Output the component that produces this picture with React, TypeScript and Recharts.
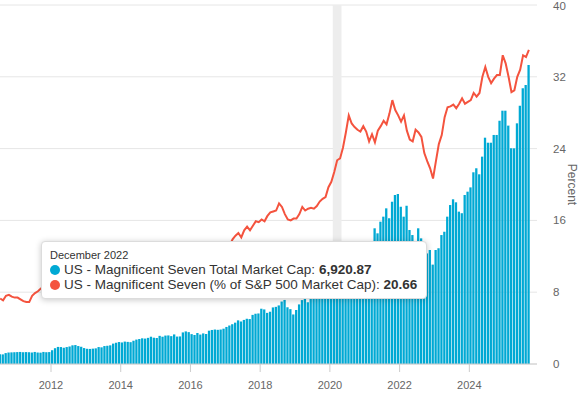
import {
  Bar,
  CartesianGrid,
  ComposedChart,
  Line,
  ReferenceArea,
  Tooltip,
  XAxis,
  YAxis,
} from "recharts";

const CAP_COLOR = "#00a9d4";
const PCT_COLOR = "#f4533e";

const monthNames = [
  "January", "February", "March", "April", "May", "June",
  "July", "August", "September", "October", "November", "December",
];

// monthly series, July 2010 .. September 2025
const firstYear = 2010;
const firstMonth = 6; // July, zero based

// US - Magnificent Seven Total Market Cap (billions USD)
const capBn = [
  680, 670, 760, 800, 810, 820,
  830, 840, 820, 830, 820, 800, 840, 800, 790, 840, 820, 830,
  960, 1100, 1190, 1180, 1130, 1180, 1220, 1300, 1320, 1250, 1200, 1110,
  1060, 1050, 1070, 1090, 1180, 1160, 1250, 1270, 1300, 1420, 1480, 1530,
  1500, 1560, 1540, 1520, 1620, 1700, 1740, 1790, 1770, 1820, 1900, 1830,
  1810, 1960, 1900, 1980, 1990, 1940, 2060, 1910, 1920, 2200, 2270, 2220,
  2080, 2020, 2160, 2050, 2130, 2090, 2320, 2370, 2400, 2380, 2400, 2460,
  2580, 2680, 2770, 2880, 3040, 2960, 3070, 3150, 3130, 3420, 3500, 3520,
  3850, 3800, 3560, 3640, 3940, 3980, 4080, 4350, 4460, 3950, 3820, 3450,
  3760, 4150, 4450, 4800, 4300, 4700, 4950, 4800, 4950, 5150, 5400, 5700,
  6050, 5700, 5150, 5950, 6350, 6800, 7650, 8350, 7950, 7600, 8150, 8500,
  8300, 8550, 8450, 9450, 9100, 9910, 10260, 10840, 10150, 11300, 11770, 11840,
  10950, 10260, 11020, 9330, 8980, 7820, 9450, 8750, 7650, 7700, 7940, 6920.87,
  7940, 8060, 8980, 9210, 10260, 11070, 11470, 11260, 10610, 10500, 11770, 12000,
  12300, 13350, 13630, 13210, 14440, 15760, 15410, 15410, 15950, 15950, 16940, 17640,
  17640, 16600, 15020, 15020, 16760, 17990, 19200, 19430, 20820,
];

// US - Magnificent Seven (% of S&P 500 Market Cap)
const sharePct = [
  7.3, 7.1, 7.6, 7.7, 7.5, 7.4,
  7.4, 7.2, 7.0, 6.9, 6.9, 7.6, 7.9, 8.1, 8.4, 8.6, 8.7, 8.8,
  9.2, 9.7, 10.2, 10.0, 9.8, 9.9, 10.1, 10.4, 10.5, 10.1, 9.8, 9.4,
  9.0, 8.8, 8.7, 8.6, 8.7, 8.6, 8.9, 9.0, 9.1, 9.4, 9.6, 9.7,
  9.6, 9.7, 9.5, 9.4, 9.6, 9.8, 9.9, 10.1, 10.3, 10.2, 10.5, 10.7,
  10.8, 11.0, 10.9, 11.1, 11.3, 11.1, 11.4, 11.6, 11.5, 12.0, 12.3, 12.4,
  12.1, 11.9, 11.8, 11.5, 11.4, 11.3, 11.8, 12.1, 12.2, 12.0, 11.9, 12.1,
  12.6, 13.2, 13.9, 14.3, 14.6, 14.1, 14.9, 15.3, 14.9, 15.4, 15.9, 15.8,
  16.1, 15.9, 16.5, 16.9, 17.0, 17.1, 17.9, 17.5, 16.7, 16.1, 16.0, 16.2,
  16.2, 16.7, 17.5, 17.1, 17.3, 17.4, 17.3, 17.6, 18.1, 18.4, 18.6, 19.7,
  20.3, 21.4, 22.7, 22.9, 24.1, 25.8, 27.7, 26.8, 26.4, 26.1, 25.9, 26.5,
  25.9, 24.8, 25.6, 24.7, 26.0, 26.5, 27.1, 26.7, 27.9, 29.4, 28.3, 27.7,
  27.0, 27.7, 26.0, 25.0, 24.8, 26.1, 25.8, 25.3, 23.5, 22.6, 21.8, 20.66,
  22.6, 24.5, 25.5, 27.5, 28.6, 28.7, 28.9, 28.5, 29.0, 29.6, 29.0, 29.2,
  29.4, 30.2, 29.8, 30.2, 32.0, 33.1, 32.0, 31.3, 31.8, 32.2, 32.2, 34.4,
  33.5, 32.0, 30.3, 30.5, 32.0, 32.8, 34.4, 34.2, 35.0,
];

const yearTicks = [2012, 2014, 2016, 2018, 2020, 2022, 2024];
const pctTicks = [0, 8, 16, 24, 32, 40];
const xDomain = [2010.537, 2025.941];
const recessionStart = 2020 + 1 / 12; // Feb 2020
const recessionEnd = 2020 + 4 / 12; // end of Apr 2020
const highlightIndex = 149; // December 2022

const data = capBn.map((cap, i) => {
  const m = firstMonth + i;
  const year = firstYear + Math.floor(m / 12);
  const month = m % 12;
  return {
    t: year + (month + 0.5) / 12,
    label: `${monthNames[month]} ${year}`,
    cap,
    pct: sharePct[i],
  };
});

const fmt = (v: number) =>
  v.toLocaleString("en-US", { minimumFractionDigits: 2, maximumFractionDigits: 2 });

function Dot({ color }: { color: string }) {
  return (
    <span
      style={{
        display: "inline-block",
        width: 10,
        height: 10,
        borderRadius: "50%",
        background: color,
        marginRight: 4,
        verticalAlign: "-1px",
      }}
    />
  );
}

function TipContent({ payload }: any) {
  if (!payload || !payload.length) return null;
  const d = payload[0].payload;
  return (
    <div
      style={{
        background: "#fff",
        border: "1px solid #dcdcdc",
        borderRadius: 4,
        boxShadow: "0 1px 6px rgba(0,0,0,0.22)",
        padding: "6px 9px 6px 8px",
        color: "#333",
        whiteSpace: "nowrap",
        width: 367,
      }}
    >
      <div style={{ fontSize: 11, lineHeight: "14px" }}>{d.label}</div>
      <div style={{ fontSize: 13.5, lineHeight: "15px" }}>
        <Dot color={CAP_COLOR} />
        US - Magnificent Seven Total Market Cap: <b>{fmt(d.cap)}</b>
      </div>
      <div style={{ fontSize: 13.5, lineHeight: "15px" }}>
        <Dot color={PCT_COLOR} />
        US - Magnificent Seven (% of S&amp;P 500 Market Cap): <b>{fmt(d.pct)}</b>
      </div>
    </div>
  );
}

const renderPercentLabel = () => (
  <text
    x={568}
    y={184.5}
    transform="rotate(90 568 184.5)"
    textAnchor="middle"
    fontSize={12}
    fill="#666"
  >
    Percent
  </text>
);

export default function App() {
  return (
    <div
      style={{
        position: "absolute",
        left: 0,
        top: 0,
        width: 579,
        height: 398,
        fontFamily: "'Liberation Sans', Arial, Helvetica, sans-serif",
        background: "#fff",
      }}
    >
      <ComposedChart
        width={579}
        height={398}
        data={data}
        margin={{ top: 5, right: 0, bottom: 0, left: 0 }}
      >
        <CartesianGrid yAxisId="pct" vertical={false} stroke="#e6e6e6" />
        <ReferenceArea
          yAxisId="pct"
          x1={recessionStart}
          x2={recessionEnd}
          fill="#ededed"
          fillOpacity={1}
          stroke="none"
        />
        <XAxis
          dataKey="t"
          type="number"
          domain={xDomain}
          allowDataOverflow
          ticks={yearTicks}
          interval={0}
          tickFormatter={(v) => String(v)}
          height={34}
          tickSize={8}
          tickMargin={9}
          stroke="#cccccc"
          tick={{ fill: "#666", fontSize: 11 }}
        />
        <YAxis yAxisId="cap" hide domain={[0, 25000]} />
        <YAxis
          yAxisId="pct"
          orientation="right"
          domain={[0, 40]}
          ticks={pctTicks}
          width={42}
          axisLine={false}
          tickLine={false}
          tickMargin={10}
          tick={{ fill: "#666", fontSize: 11.5 }}
          label={{ value: "Percent", content: renderPercentLabel }}
        />
        <Tooltip
          active
          defaultIndex={highlightIndex}
          position={{ x: 41, y: 241 }}
          cursor={false}
          isAnimationActive={false}
          content={<TipContent />}
          wrapperStyle={{ outline: "none", zIndex: 10 }}
        />
        <Bar
          yAxisId="cap"
          dataKey="cap"
          fill={CAP_COLOR}
          barSize={2.3}
          isAnimationActive={false}
        />
        <Line
          yAxisId="pct"
          dataKey="pct"
          type="linear"
          stroke={PCT_COLOR}
          strokeWidth={2}
          dot={false}
          activeDot={false}
          isAnimationActive={false}
        />
      </ComposedChart>
    </div>
  );
}
